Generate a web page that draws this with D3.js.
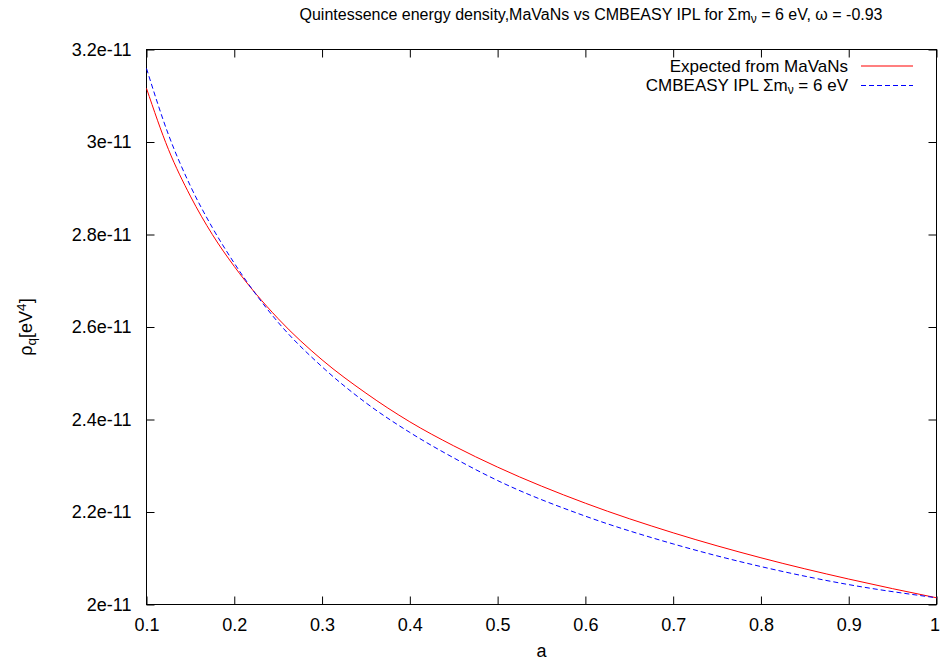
<!DOCTYPE html>
<html>
<head>
<meta charset="utf-8">
<script src="https://cdn.jsdelivr.net/npm/d3@7"></script>
<style>
  body { margin: 0; background: #fff; }
  text { font-family: "Liberation Sans", Arial, Helvetica, sans-serif; }
</style>
</head>
<body>
<div id="chart"></div>
<script>
(function() {
  // values are in units of 1e-11 eV^4
  var aValues = [0.1, 0.125, 0.15, 0.175, 0.2, 0.25, 0.3, 0.35, 0.4, 0.45, 0.5, 0.6, 0.7, 0.8, 0.9, 1.0];
  var mavans  = [3.116, 2.984, 2.883, 2.800, 2.731, 2.618, 2.529, 2.457, 2.395, 2.343, 2.297, 2.219, 2.155, 2.101, 2.055, 2.0145];
  var cmbeasy = [3.159, 3.016, 2.905, 2.815, 2.738, 2.610, 2.514, 2.436, 2.372, 2.317, 2.268, 2.191, 2.131, 2.082, 2.043, 2.0145];
  var xTicks = [0.1, 0.2, 0.3, 0.4, 0.5, 0.6, 0.7, 0.8, 0.9, 1];
  var yTicks = [2.0, 2.2, 2.4, 2.6, 2.8, 3.0, 3.2];
  var yTickLabels = ["2e-11", "2.2e-11", "2.4e-11", "2.6e-11", "2.8e-11", "3e-11", "3.2e-11"];

  var width = 940,
      height = 664,
      margin = {top: 49.5, right: 3.5, bottom: 59.5, left: 146.5};
  var w = width - margin.left - margin.right,
      h = height - margin.top - margin.bottom;
  var fs = 18,      // labels, ticks
      titleFs = 16;

  var svg = d3.select("#chart").append("svg")
      .attr("width", width)
      .attr("height", height);

  var g = svg.append("g")
      .attr("transform", "translate(" + margin.left + "," + margin.top + ")");

  var x = d3.scaleLinear().domain([0.1, 1]).range([0, w]);
  var y = d3.scaleLinear().domain([2.0, 3.2]).range([h, 0]);

  // ticks point inward and are mirrored, gnuplot style
  var tl = 8;
  g.append("g").call(d3.axisBottom(x).tickValues(xTicks).tickSizeInner(-tl).tickSizeOuter(0)
      .tickFormat(d3.format("")))
    .attr("transform", "translate(0," + h + ")")
    .call(function(s) {
      s.select(".domain").remove();
      s.selectAll("text").attr("y", 0).attr("dy", 26.5).style("font-size", fs + "px");
      // last label sits on the window edge
      s.selectAll("text").filter(function(d) { return d === 1; }).attr("x", -2);
    });
  g.append("g").call(d3.axisTop(x).tickValues(xTicks).tickSizeInner(-tl).tickSizeOuter(0).tickFormat(""))
    .call(function(s) { s.select(".domain").remove(); });

  g.append("g").call(d3.axisLeft(y).tickValues(yTicks).tickSizeInner(-tl).tickSizeOuter(0)
      .tickFormat(function(d, i) { return yTickLabels[i]; }))
    .call(function(s) {
      s.select(".domain").remove();
      s.selectAll("text").attr("x", -15).style("font-size", fs + "px");
    });
  g.append("g").call(d3.axisRight(y).tickValues(yTicks).tickSizeInner(-tl).tickSizeOuter(0).tickFormat(""))
    .attr("transform", "translate(" + w + ",0)")
    .call(function(s) { s.select(".domain").remove(); });

  g.selectAll(".tick line").attr("stroke", "#000");
  g.selectAll(".tick text").attr("fill", "#000");
  g.selectAll("g").attr("font-family", null).attr("font-size", null);

  // frame
  g.append("rect")
      .attr("width", w).attr("height", h)
      .attr("fill", "none").attr("stroke", "#000").attr("stroke-width", 1);

  var line = d3.line()
      .x(function(d) { return x(d[0]); })
      .y(function(d) { return y(d[1]); })
      .curve(d3.curveMonotoneX);

  g.append("path")
      .datum(d3.zip(aValues, mavans))
      .attr("d", line)
      .style("fill", "none")
      .style("stroke", "#ff0000")
      .style("stroke-width", 1);

  g.append("path")
      .datum(d3.zip(aValues, cmbeasy))
      .attr("d", line)
      .style("fill", "none")
      .style("stroke", "#0000ff")
      .style("stroke-width", 1)
      .style("stroke-dasharray", "5,3");

  // legend
  var legend = svg.append("g").style("font-size", "17px");
  legend.append("text").attr("x", 848).attr("y", 72).attr("text-anchor", "end")
      .text("Expected from MaVaNs");
  legend.append("line").attr("x1", 861).attr("x2", 913).attr("y1", 66).attr("y2", 66)
      .style("stroke", "#ff0000").style("stroke-width", 1.2);
  var l2 = legend.append("text").attr("x", 848).attr("y", 91).attr("text-anchor", "end");
  l2.append("tspan").text("CMBEASY IPL \u03A3m");
  l2.append("tspan").attr("baseline-shift", "-25%").style("font-size", "12px").text("\u03BD");
  l2.append("tspan").text(" = 6 eV");
  legend.append("line").attr("x1", 861).attr("x2", 913).attr("y1", 85.5).attr("y2", 85.5)
      .style("stroke", "#0000ff").style("stroke-width", 1.2).style("stroke-dasharray", "5,3");

  // title
  var title = svg.append("text").attr("x", 591).attr("y", 20).attr("text-anchor", "middle")
      .style("font-size", titleFs + "px");
  title.append("tspan").text("Quintessence energy density,MaVaNs vs CMBEASY IPL for \u03A3m");
  title.append("tspan").attr("baseline-shift", "-25%").style("font-size", (titleFs * 0.75) + "px").text("\u03BD");
  title.append("tspan").text(" = 6 eV, \u03C9 = -0.93");

  // axis labels
  svg.append("text").attr("x", margin.left + w / 2).attr("y", 657).attr("text-anchor", "middle")
      .style("font-size", fs + "px").text("a");

  var yl = svg.append("text")
      .attr("transform", "translate(32," + (margin.top + h / 2) + ") rotate(-90)")
      .attr("text-anchor", "middle")
      .style("font-size", fs + "px");
  yl.append("tspan").text("\u03C1");
  yl.append("tspan").attr("baseline-shift", "-25%").style("font-size", (fs * 0.75) + "px").text("q");
  yl.append("tspan").text("[eV");
  yl.append("tspan").attr("baseline-shift", "45%").style("font-size", (fs * 0.75) + "px").text("4");
  yl.append("tspan").text("]");
})();
</script>
</body>
</html>
